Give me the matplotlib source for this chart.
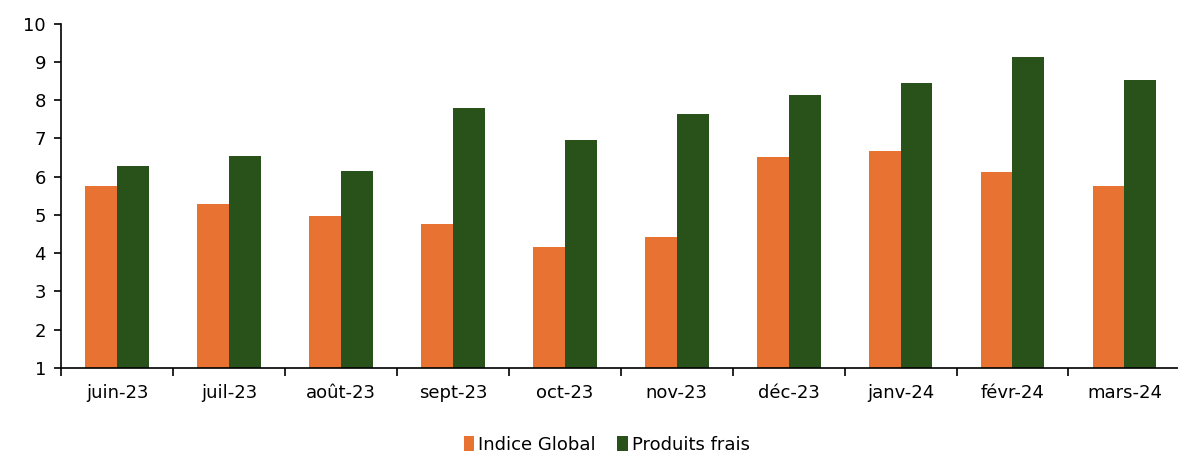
import numpy as np
import matplotlib
matplotlib.use("Agg")
import matplotlib.pyplot as plt
from matplotlib.ticker import FixedLocator, NullFormatter

months = ["juin-23", "juil-23", "août-23", "sept-23", "oct-23",
          "nov-23", "déc-23", "janv-24", "févr-24", "mars-24"]
indice_global = [5.76, 5.29, 4.96, 4.77, 4.17, 4.42, 6.51, 6.66, 6.12, 5.76]
produits_frais = [6.28, 6.53, 6.15, 7.79, 6.96, 7.63, 8.13, 8.45, 9.12, 8.53]

plt.rcParams['font.family'] = ['DejaVu Sans']
plt.rcParams['font.size'] = 13

fig = plt.figure(figsize=(11.78, 4.54), dpi=100)
ax = fig.add_axes([0.052, 0.19, 0.950, 0.758])

x = np.arange(len(months))
w = 0.285
base = 1
ax.bar(x - w / 2, np.array(indice_global) - base, w, bottom=base,
       color="#E87232", label="Indice Global")
ax.bar(x + w / 2, np.array(produits_frais) - base, w, bottom=base,
       color="#28521A", label="Produits frais")

ax.set_ylim(1, 10)
ax.set_yticks(range(1, 11))
ax.set_xlim(-0.5, len(months) - 0.5)
ax.set_xticks(x)
ax.set_xticklabels(months)
ax.tick_params(axis="x", which="major", length=0, pad=12)
ax.xaxis.set_minor_locator(FixedLocator(np.arange(-0.5, len(months), 1.0)))
ax.xaxis.set_minor_formatter(NullFormatter())
ax.tick_params(axis="x", which="minor", length=6, width=1.2, direction="out")
ax.tick_params(axis="y", length=5, width=1.2, direction="out", pad=6)

for s in ["top", "right"]:
    ax.spines[s].set_visible(False)
for s in ["left", "bottom"]:
    ax.spines[s].set_linewidth(1.2)

fig.legend(loc="lower center", bbox_to_anchor=(0.515, -0.035), ncol=2,
           frameon=False, handlelength=0.6, handleheight=0.9,
           handletextpad=0.2, columnspacing=1.2)

fig.savefig("out.png", dpi=100)
